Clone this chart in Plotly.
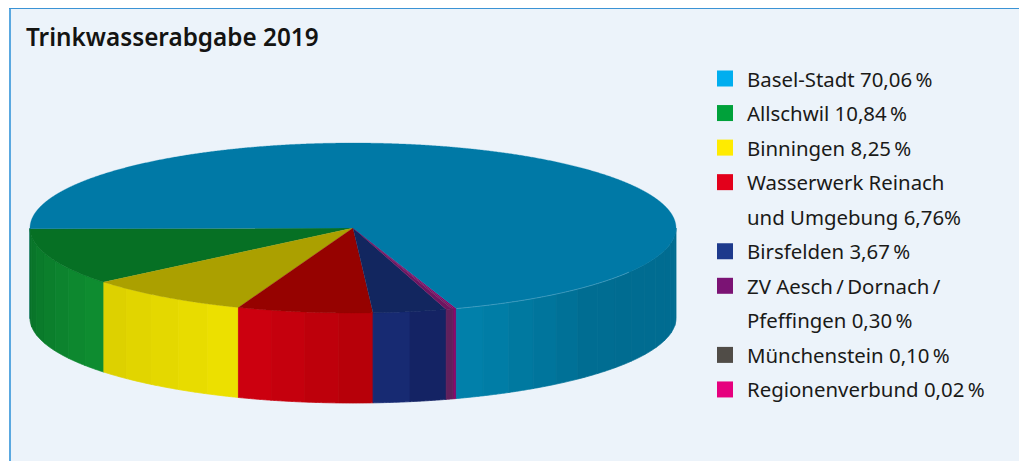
import math
import plotly.graph_objects as go

# Water delivered in 2019, share per supplier in percent
suppliers = ["Basel-Stadt", "Allschwil", "Binningen", "Wasserwerk Reinach und Umgebung",
             "Birsfelden", "ZV Aesch/Dornach/Pfeffingen", "Münchenstein", "Regionenverbund"]
shares = [70.06, 10.84, 8.25, 6.76, 3.67, 0.30, 0.10, 0.02]

# Legend text: lines before the value, and the separator between value and percent sign
THIN = "\u2009"
legend_lines = [["Basel-Stadt {}"], ["Allschwil {}"], ["Binningen {}"],
                ["Wasserwerk Reinach", "und Umgebung {}"], ["Birsfelden {}"],
                [f"ZV Aesch{THIN}/{THIN}Dornach{THIN}/", "Pfeffingen {}"],
                ["Münchenstein {}"], ["Regionenverbund {}"]]
percent_sep = [THIN, THIN, THIN, "", THIN, THIN, THIN, THIN]

swatch_colours = ["#00AEEF", "#00A13A", "#FFEB00", "#E3001B", "#1D3A8C", "#7B1374", "#504C47", "#E6007E"]
top_colours = ["#0079A6", "#067024", "#ABA000", "#960200", "#12265F", "#6E1560", "#701A60", "#8A0066"]
# Colour stops along each slice's outer wall, from its first edge to its last
wall_colours = [["#0182AD", "#00789F", "#006D92", "#006C91", "#006C91", "#006C91"],
                ["#077028", "#0F8E31"],
                ["#DBCF00", "#EEE200"],
                ["#D00010", "#B30008"],
                ["#182E78", "#131F5E"],
                ["#5D2058", "#622060"],
                ["#6A2060", "#6A2060"],
                ["#8D0068", "#8D0068"]]

# Pie geometry in page pixels
CX, CY, RX, RY, DEPTH = 353, 228, 323, 85, 90
START_DEG = 179.5        # the first slice after Basel-Stadt begins at the left edge
MIN_SWEEP = 0.4          # tiny slices stay visible
BAND_DEG = 5

PANEL = "#ECF3FA"
TEXT = "#1A1A18"
FONT = "Noto Sans"


def hex_rgb(h):
    return [int(h[i:i + 2], 16) for i in (1, 3, 5)]


def mix(stops, f):
    pos = min(max(f, 0), 1) * (len(stops) - 1)
    i = min(int(pos), len(stops) - 2)
    a, b = hex_rgb(stops[i]), hex_rgb(stops[i + 1])
    w = pos - i
    return "rgb({},{},{})".format(*[round(a[k] + (b[k] - a[k]) * w) for k in range(3)])


def rim(theta):
    r = math.radians(theta)
    return CX + RX * math.cos(r), CY + RY * math.sin(r)


def arc(a, b, step=1.0):
    n = max(2, int(abs(a - b) / step) + 1)
    return [a + (b - a) * i / (n - 1) for i in range(n)]


def polygon(xs, ys, colour, edge=0.8):
    return go.Scatter(x=xs, y=ys, mode="lines", fill="toself", fillcolor=colour,
                      line=dict(color=colour, width=edge, simplify=False),
                      hoverinfo="skip", showlegend=False)


def wall_facet(t0, t1, colour):
    pts = [rim(t) for t in arc(t0, t1, 0.25)]
    xs = [p[0] for p in pts]
    ys = [p[1] for p in pts]
    return polygon(xs + xs[::-1] + [xs[0]], ys + [y + DEPTH for y in ys[::-1]] + [ys[0]], colour)


# Slices run from the left edge along the front; Basel-Stadt closes the circle
order = list(range(1, len(shares))) + [0]
sweeps = {i: max(shares[i] * 3.6, MIN_SWEEP) for i in order[:-1]}
sweeps[0] = 360 - sum(sweeps.values())

fig = go.Figure()
theta = START_DEG
spans = {}
for i in order:
    spans[i] = (theta, theta - sweeps[i])
    theta -= sweeps[i]

# Sliver of the Basel-Stadt wall showing at the far left
fig.add_trace(wall_facet(180, START_DEG, "#0D7488"))

# Outer wall, built from narrow vertical facets on the visible front half
for i in order:
    a, b = spans[i]
    front_a, front_b = min(a, 180), max(b, 0)
    if front_a <= front_b:
        continue
    bands = max(1, int((front_a - front_b) / BAND_DEG))
    for k in range(bands):
        t0 = front_a + (front_b - front_a) * k / bands
        t1 = front_a + (front_b - front_a) * (k + 1) / bands
        fig.add_trace(wall_facet(t0, t1, mix(wall_colours[i], (k + 0.5) / bands)))

# Top face
for i in order:
    a, b = spans[i]
    pts = [rim(t) for t in arc(a, b, 0.25)]
    fig.add_trace(polygon([CX] + [p[0] for p in pts] + [CX],
                          [CY] + [p[1] for p in pts] + [CY], top_colours[i], edge=0.3))

# Pale highlight where the top of Basel-Stadt meets its wall
a0 = spans[0][0]
pts = [rim(t) for t in arc(a0, a0 - 40, 0.5)]
fig.add_trace(go.Scatter(x=[p[0] for p in pts], y=[p[1] for p in pts], mode="lines",
                         line=dict(color="rgba(170,215,235,0.45)", width=0.7, simplify=False),
                         hoverinfo="skip", showlegend=False))

# Legend rows
ROW0, ROW_H = 78.5, 34.55
annotations = [dict(x=24, y=36, text="Trinkwasserabgabe 2019", showarrow=False,
                    xanchor="left", yanchor="middle", xref="x", yref="y",
                    font=dict(family=FONT, size=24.3, color="#141412", weight=600))]
sw_x, sw_y, sw_c = [], [], []
row = 0
for i, lines in enumerate(legend_lines):
    sw_x.append(725)
    sw_y.append(ROW0 + ROW_H * row)
    sw_c.append(swatch_colours[i])
    value = f"{shares[i]:.2f}".replace(".", ",") + percent_sep[i] + "%"
    for line in lines:
        annotations.append(dict(x=745, y=ROW0 + ROW_H * row, text=line.format(value), showarrow=False,
                                xanchor="left", yanchor="middle", xref="x", yref="y",
                                font=dict(family=FONT, size=20.4, color=TEXT)))
        row += 1
fig.add_trace(go.Scatter(x=sw_x, y=sw_y, mode="markers", hoverinfo="skip", showlegend=False,
                         marker=dict(symbol="square", size=16, color=sw_c, line=dict(width=0))))

fig.update_layout(
    width=1019, height=461, autosize=False, margin=dict(l=0, r=0, t=0, b=0),
    paper_bgcolor="white", plot_bgcolor="white",
    xaxis=dict(range=[0, 1019], visible=False, fixedrange=True),
    yaxis=dict(range=[461, 0], visible=False, fixedrange=True),
    annotations=annotations,
    shapes=[
        dict(type="rect", xref="x", yref="y", x0=10, x1=1030, y0=8.5, y1=480, layer="below",
             fillcolor=PANEL, line=dict(width=0)),
        dict(type="line", xref="x", yref="y", x0=10, x1=10, y0=8, y1=480, layer="below",
             line=dict(color="#5AA8E0", width=2)),
        dict(type="line", xref="x", yref="y", x0=9, x1=1030, y0=8.5, y1=8.5, layer="below",
             line=dict(color="#3A93D5", width=1)),
    ],
)
fig.write_html("out.html")
